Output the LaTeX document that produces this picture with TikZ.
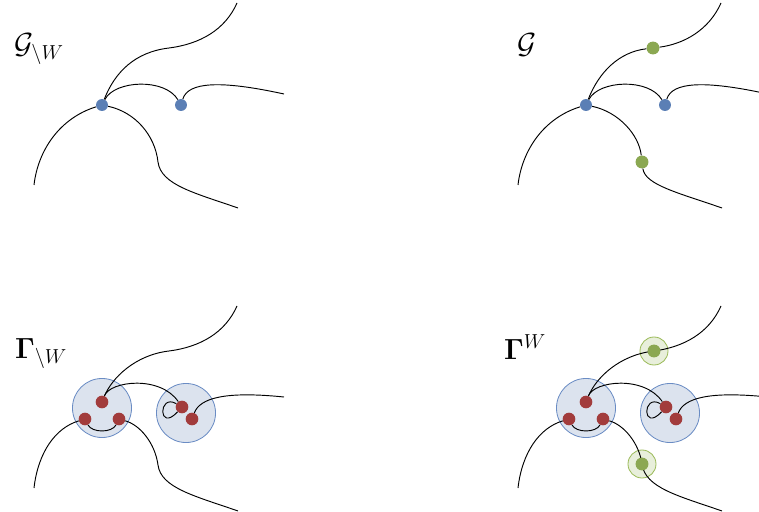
\documentclass[tikz,border=0pt]{standalone}
\usepackage{amsmath}
\definecolor{nodeblue}{HTML}{5B7FB5}
\definecolor{nodered}{HTML}{A23C3C}
\definecolor{nodegreen}{HTML}{8BA852}
\definecolor{blobfill}{HTML}{DCE3EE}
\definecolor{blobline}{HTML}{6A8CC4}
\definecolor{ringfill}{HTML}{E8EFDB}
\definecolor{ringline}{HTML}{9BBB59}
\tikzset{
  bnode/.style={circle, fill=nodeblue, inner sep=0pt, minimum size=10.2pt},
  gnode/.style={circle, fill=nodegreen, inner sep=0pt, minimum size=11pt},
  rnode/.style={circle, fill=nodered, inner sep=0pt, minimum size=10.8pt},
  blob/.style={circle, draw=blobline, fill=blobfill, line width=0.7pt, inner sep=0pt, minimum size=50.4pt},
  ring/.style={circle, draw=ringline, fill=ringfill, line width=0.7pt, inner sep=0pt, minimum size=23.9pt},
  edge/.style={black, line width=0.8pt},
}
\begin{document}
\begin{tikzpicture}[x=0.03cm, y=-0.03cm, font=\fontsize{23}{28}\selectfont]
\useasboundingbox (0,0) rectangle (759,512);

% graph without W
\begin{scope}
  \node[anchor=base west] (lab1) at (10,54) {$\mathcal{G}_{\setminus W}$};
  \node[bnode] (a1) at (102,105) {};
  \node[bnode] (b1) at (181,105) {};
  \coordinate (m1) at (169,48);
  \coordinate (m2) at (158,162);
  \coordinate (e1) at (237,3);
  \coordinate (f1) at (284,94);
  \coordinate (g1) at (34,185);
  \coordinate (h1) at (238,208);
  \draw[edge] (a1) .. controls (115,72) and (135,52) .. (m1) .. controls (200,44) and (225,30) .. (e1);
  \draw[edge] (a1) .. controls (115,80) and (165,78) .. (b1);
  \draw[edge] (b1) .. controls (188,82) and (220,80) .. (f1);
  \draw[edge] (a1) .. controls (60,118) and (38,150) .. (g1);
  \draw[edge] (a1) .. controls (135,112) and (155,135) .. (m2) .. controls (161,185) and (195,193) .. (h1);
\end{scope}

% graph
\begin{scope}[shift={(484,0)}]
  \node[anchor=base west] (lab2) at (29,54) {$\mathcal{G}$};
  \node[bnode] (a2) at (102,105) {};
  \node[bnode] (b2) at (181,105) {};
  \node[gnode] (m3) at (169,48) {};
  \node[gnode] (m4) at (158,162) {};
  \coordinate (e2) at (237,3);
  \coordinate (f2) at (284,94);
  \coordinate (g2) at (34,185);
  \coordinate (h2) at (238,208);
  \draw[edge] (a2) .. controls (115,72) and (135,52) .. (m3);
  \draw[edge] (m3) .. controls (200,44) and (225,30) .. (e2);
  \draw[edge] (a2) .. controls (115,80) and (165,78) .. (b2);
  \draw[edge] (b2) .. controls (188,82) and (220,80) .. (f2);
  \draw[edge] (a2) .. controls (60,118) and (38,150) .. (g2);
  \draw[edge] (a2) .. controls (135,112) and (155,135) .. (m4);
  \draw[edge] (m4) .. controls (161,185) and (195,193) .. (h2);
\end{scope}

% Gamma without W
\begin{scope}[shift={(0,303)}]
  \node[anchor=base west] (lab3) at (11,55) {$\mathbf{\Gamma}_{\setminus W}$};
  \node[blob] (c1) at (102,105) {};
  \node[blob] (c2) at (186,110) {};
  \node[rnode] (r1) at (102,99) {};
  \node[rnode] (r2) at (85,116) {};
  \node[rnode] (r3) at (119,116) {};
  \node[rnode] (r4) at (182,104) {};
  \node[rnode] (r5) at (192,116) {};
  \coordinate (m5) at (169,48);
  \coordinate (m6) at (158,162);
  \coordinate (e3) at (237,3);
  \coordinate (f3) at (284,94);
  \coordinate (g3) at (34,185);
  \coordinate (h3) at (238,208);
  \draw[edge] (r1) .. controls (112,75) and (135,52) .. (m5) .. controls (200,44) and (225,30) .. (e3);
  \draw[edge] (r1) .. controls (110,78) and (160,72) .. (r4);
  \draw[edge] (r4) .. controls (158,90) and (158,130) .. (r4);
  \draw[edge] (r5) .. controls (200,95) and (225,88) .. (f3);
  \draw[edge] (r2) .. controls (92,130) and (112,130) .. (r3);
  \draw[edge] (r2) .. controls (55,125) and (38,150) .. (g3);
  \draw[edge] (r3) .. controls (140,122) and (155,140) .. (m6) .. controls (161,185) and (195,193) .. (h3);
\end{scope}

% Gamma with W
\begin{scope}[shift={(484,303)}]
  \node[anchor=base west] (lab4) at (16,56) {$\mathbf{\Gamma}^{W}$};
  \node[blob] (c3) at (102,105) {};
  \node[blob] (c4) at (186,110) {};
  \node[ring] (w1) at (170,48) {};
  \node[ring] (w2) at (158,161) {};
  \node[rnode] (r6) at (102,99) {};
  \node[rnode] (r7) at (85,116) {};
  \node[rnode] (r8) at (119,116) {};
  \node[rnode] (r9) at (182,104) {};
  \node[rnode] (r10) at (192,116) {};
  \coordinate (e4) at (237,3);
  \coordinate (f4) at (284,94);
  \coordinate (g4) at (34,185);
  \coordinate (h4) at (238,208);
  \draw[edge] (r6) .. controls (112,75) and (135,52) .. (w1.center);
  \draw[edge] (w1.center) .. controls (200,44) and (225,30) .. (e4);
  \draw[edge] (r6) .. controls (110,78) and (160,72) .. (r9);
  \draw[edge] (r9) .. controls (158,90) and (158,130) .. (r9);
  \draw[edge] (r10) .. controls (200,95) and (225,88) .. (f4);
  \draw[edge] (r7) .. controls (92,130) and (112,130) .. (r8);
  \draw[edge] (r7) .. controls (55,125) and (38,150) .. (g4);
  \draw[edge] (r8) .. controls (140,122) and (155,140) .. (w2.center);
  \draw[edge] (w2.center) .. controls (161,185) and (195,193) .. (h4);
  \node[gnode] (m7) at (w1) {};
  \node[gnode] (m8) at (w2) {};
\end{scope}
\end{tikzpicture}
\end{document}
